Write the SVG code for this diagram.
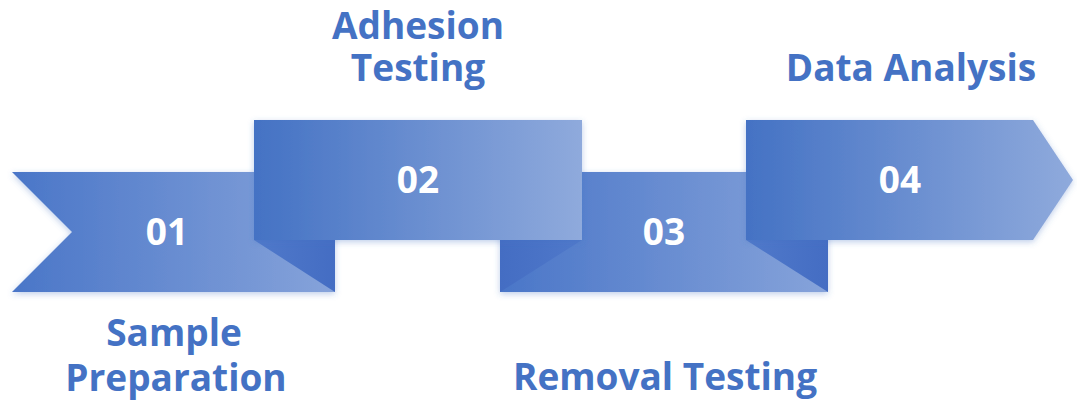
<svg xmlns="http://www.w3.org/2000/svg" width="1077" height="402" viewBox="0 0 1077 402">
<defs>
<linearGradient id="g" x1="0" y1="0" x2="1" y2="0">
<stop offset="0" stop-color="#4472C4"/>
<stop offset="1" stop-color="#8FAADC"/>
</linearGradient>
<linearGradient id="gb" x1="0" y1="0" x2="1" y2="0">
<stop offset="0" stop-color="#4A76C8"/>
<stop offset="1" stop-color="#86A3DA"/>
</linearGradient>
<linearGradient id="fr" x1="0" y1="0" x2="1" y2="0">
<stop offset="0" stop-color="#5079CA"/>
<stop offset="1" stop-color="#446DC3"/>
</linearGradient>
<linearGradient id="fl" x1="0" y1="0" x2="1" y2="0">
<stop offset="0" stop-color="#446DC3"/>
<stop offset="1" stop-color="#5079CA"/>
</linearGradient>
<filter id="sh" x="-10%" y="-20%" width="120%" height="140%">
<feDropShadow dx="0" dy="2" stdDeviation="3" flood-color="#4472C4" flood-opacity="0.35"/>
</filter>
</defs>
<style>
.num{font-family:"Open Sans","Liberation Sans",sans-serif;font-weight:700;font-size:37px;fill:#FFFFFF;text-anchor:middle}
.lbl{font-family:"Open Sans","Liberation Sans",sans-serif;font-weight:700;font-size:37px;fill:#4472C4;text-anchor:middle}
</style>
<rect width="1077" height="402" fill="#FFFFFF"/>
<g id="step1">
<polygon points="12,172 335,172 335,292 12,292 72,232" fill="url(#gb)" filter="url(#sh)"/>
<polygon points="254,240 335,240 335,292" fill="url(#fr)"/>
<text class="num" x="167" y="245">01</text>
<text class="lbl" x="174" y="346">Sample</text>
<text class="lbl" x="176" y="391">Preparation</text>
</g>
<g id="step3">
<rect x="500" y="172" width="328" height="120" fill="url(#gb)" filter="url(#sh)"/>
<polygon points="500,240 582,240 500,292" fill="url(#fl)"/>
<polygon points="746,240 828,240 828,292" fill="url(#fr)"/>
<text class="num" x="664" y="245">03</text>
<text class="lbl" x="665" y="390">Removal Testing</text>
</g>
<g id="step2">
<rect x="254" y="120" width="328" height="120" fill="url(#g)" filter="url(#sh)"/>
<text class="num" x="418" y="193">02</text>
<text class="lbl" x="418" y="39">Adhesion</text>
<text class="lbl" x="418" y="81">Testing</text>
</g>
<g id="step4">
<polygon points="746,120 1033,120 1073,180 1033,240 746,240" fill="url(#g)" filter="url(#sh)"/>
<text class="num" x="900" y="193">04</text>
<text class="lbl" x="911" y="81">Data Analysis</text>
</g>
<g id="connectors"></g>
</svg>
